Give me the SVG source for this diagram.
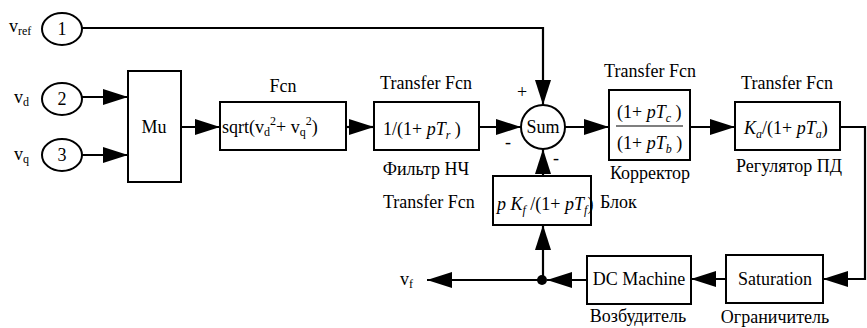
<svg xmlns="http://www.w3.org/2000/svg" width="867" height="328" viewBox="0 0 867 328">
<style>
.b{fill:#fff;stroke:#000;stroke-width:2}
.c{fill:none;stroke:#000;stroke-width:2.2}
.t{font-family:'Liberation Serif',Tinos,'Times New Roman',Times,'DejaVu Serif',serif;font-size:18px;fill:#000}
.m{text-anchor:middle}
.i{font-style:italic}
.s{font-size:12px}
</style>
<defs>
<marker id="ah" markerUnits="userSpaceOnUse" markerWidth="26" markerHeight="18" refX="25" refY="8" orient="auto">
<path d="M0,0 L25,8 L0,16 z" fill="#000"/>
</marker>
</defs>
<g id="connectors">
<path class="c" d="M82,28 H543 V105" marker-end="url(#ah)"/>
<path class="c" d="M82,97 H128" marker-end="url(#ah)"/>
<path class="c" d="M82,155 H128" marker-end="url(#ah)"/>
<path class="c" d="M181,127 H220" marker-end="url(#ah)"/>
<path class="c" d="M346,127 H374" marker-end="url(#ah)"/>
<path class="c" d="M479,127 H521" marker-end="url(#ah)"/>
<path class="c" d="M565,127 H609" marker-end="url(#ah)"/>
<path class="c" d="M690,127 H735" marker-end="url(#ah)"/>
<path class="c" d="M840,127 H865 V279 H823" marker-end="url(#ah)"/>
<path class="c" d="M726,279 H691" marker-end="url(#ah)"/>
<path class="c" d="M587,280 H547" marker-end="url(#ah)"/>
<path class="c" d="M542,280 H427" marker-end="url(#ah)"/>
<path class="c" d="M543,280 V225" marker-end="url(#ah)"/>
<path class="c" d="M543,176 V149" marker-end="url(#ah)"/>
<circle cx="542" cy="280" r="5" fill="#000"/>
</g>
<g id="in1">
<ellipse class="b" cx="62" cy="29" rx="20" ry="16"/>
<text class="t m" x="62" y="35">1</text>
<text class="t" x="9" y="32">v<tspan class="s" dy="3">ref</tspan></text>
</g>
<g id="in2">
<ellipse class="b" cx="62" cy="99" rx="20" ry="16"/>
<text class="t m" x="62" y="105">2</text>
<text class="t" x="14" y="103">v<tspan class="s" dy="3">d</tspan></text>
</g>
<g id="in3">
<ellipse class="b" cx="62" cy="155" rx="20" ry="16"/>
<text class="t m" x="62" y="161">3</text>
<text class="t" x="14" y="160">v<tspan class="s" dy="3">q</tspan></text>
</g>
<g id="mu">
<rect class="b" x="128" y="71" width="53" height="111"/>
<text class="t m" x="154" y="133">Mu</text>
</g>
<g id="fcn">
<rect class="b" x="220" y="102" width="126" height="48"/>
<text class="t m" x="283" y="92">Fcn</text>
<text class="t" x="222" y="133">sqrt(v<tspan class="s" dy="3">d</tspan><tspan class="s" dy="-11">2</tspan><tspan dy="8">+ v</tspan><tspan class="s" dy="3">q</tspan><tspan class="s" dy="-11">2</tspan><tspan dy="8">)</tspan></text>
</g>
<g id="filter">
<rect class="b" x="374" y="102" width="105" height="48"/>
<text class="t m" x="426" y="89">Transfer Fcn</text>
<text class="t" x="383" y="135" font-size="20">1/(1+ <tspan class="i">pT</tspan><tspan class="i s" dy="4">r</tspan><tspan dy="-4"> )</tspan></text>
<text class="t m" x="426" y="175">Фильтр НЧ</text>
</g>
<g id="sum">
<circle class="b" cx="543" cy="127" r="22"/>
<text class="t m" x="543" y="133">Sum</text>
<text class="t" x="517" y="98">+</text>
<text class="t" x="505" y="148">-</text>
<text class="t" x="553" y="164">-</text>
</g>
<g id="corrector">
<rect class="b" x="609" y="90" width="81" height="70"/>
<text class="t m" x="650" y="77">Transfer Fcn</text>
<text class="t" x="617" y="118">(1+ <tspan class="i">pT</tspan><tspan class="i s" dy="4">c</tspan><tspan dy="-4"> )</tspan></text>
<line x1="616" y1="126" x2="683" y2="126" stroke="#000" stroke-width="1.2"/>
<text class="t" x="617" y="149">(1+ <tspan class="i">pT</tspan><tspan class="i s" dy="4">b</tspan><tspan dy="-4"> )</tspan></text>
<text class="t m" x="650" y="179">Корректор</text>
</g>
<g id="regulator">
<rect class="b" x="735" y="102" width="105" height="48"/>
<text class="t m" x="787" y="89">Transfer Fcn</text>
<text class="t" x="744" y="134"><tspan class="i">K</tspan><tspan class="i s" dy="4">a</tspan><tspan dy="-4">/(1+ </tspan><tspan class="i">pT</tspan><tspan class="i s" dy="4">a</tspan><tspan dy="-4">)</tspan></text>
<text class="t m" x="789" y="172">Регулятор ПД</text>
</g>
<g id="feedback">
<rect class="b" x="493" y="176" width="98" height="49"/>
<text class="t" x="497" y="210" font-size="16"><tspan class="i">p K</tspan><tspan class="i s" dy="4">f</tspan><tspan dy="-4"> /(1+ </tspan><tspan class="i">pT</tspan><tspan class="i s" dy="4">f</tspan><tspan dy="-4">)</tspan></text>
<text class="t" x="383" y="208">Transfer Fcn</text>
<text class="t" x="600" y="208">Блок</text>
</g>
<g id="dcmachine">
<rect class="b" x="587" y="256" width="104" height="48"/>
<text class="t m" x="639" y="285">DC Machine</text>
<text class="t m" x="638" y="322">Возбудитель</text>
</g>
<g id="saturation">
<rect class="b" x="726" y="255" width="97" height="48"/>
<text class="t m" x="775" y="285">Saturation</text>
<text class="t m" x="775" y="323">Ограничитель</text>
</g>
<g id="vf">
<text class="t" x="400" y="285">v<tspan class="s" dy="3">f</tspan></text>
</g>
</svg>
